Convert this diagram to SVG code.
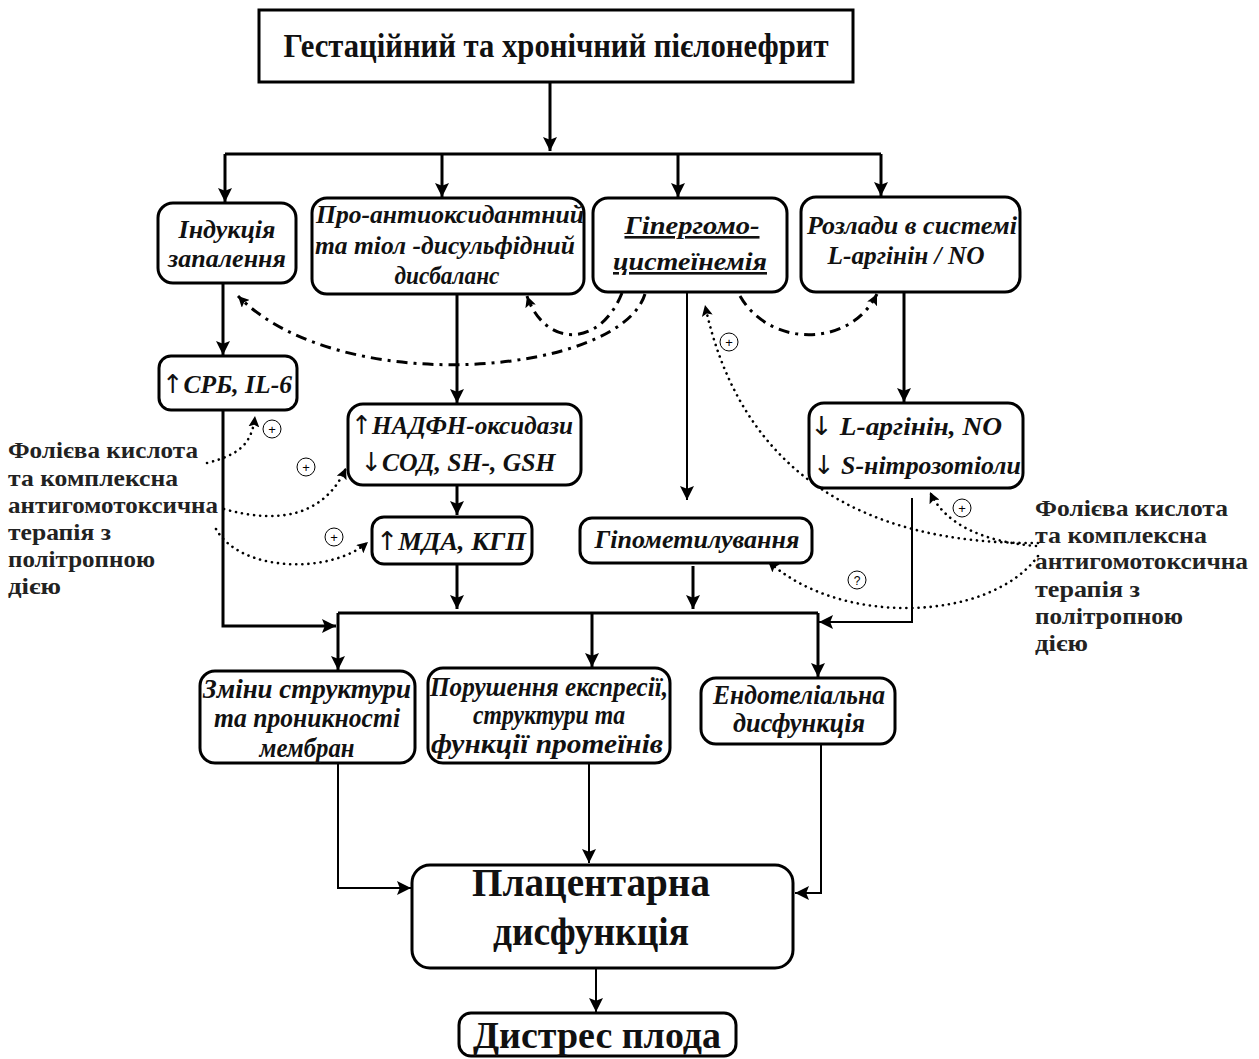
<svg xmlns="http://www.w3.org/2000/svg" width="1259" height="1059" viewBox="0 0 1259 1059">
<defs>
<style>
.box{fill:#fff;stroke:#000;stroke-width:3}
.n{font-family:"Liberation Serif","Times New Roman",serif;font-weight:bold;font-style:italic;font-size:26px;fill:#111;text-anchor:middle}
.r3{font-size:27px}
.ar{font-family:"DejaVu Sans",sans-serif;font-weight:normal;font-style:normal}
.b{font-family:"Liberation Serif","Times New Roman",serif;font-weight:bold;fill:#111;text-anchor:middle}
.lab{font-family:"Liberation Serif","Times New Roman",serif;font-weight:bold;font-size:23px;fill:#222}
.ln{fill:none;stroke:#000;stroke-width:3}
.thin{fill:none;stroke:#000;stroke-width:2}
.dd{fill:none;stroke:#000;stroke-width:3;stroke-dasharray:11 6 3 6}
.dot{fill:none;stroke:#000;stroke-width:2.6;stroke-dasharray:0.1 6;stroke-linecap:round}
.sym{fill:#fff;stroke:#000;stroke-width:1}
.st{font-family:"Liberation Sans",Arial,sans-serif;font-size:13px;fill:#000;text-anchor:middle}
</style>
<marker id="ah" viewBox="0 0 10 10" refX="10" refY="5" markerWidth="14" markerHeight="14" markerUnits="userSpaceOnUse" orient="auto">
<path d="M0,0 L10,5 L0,10 L2,5 z" fill="#000"/>
</marker>
<marker id="as" viewBox="0 0 10 10" refX="10" refY="5" markerWidth="11" markerHeight="11" markerUnits="userSpaceOnUse" orient="auto">
<path d="M0,0 L10,5 L0,10 L2,5 z" fill="#000"/>
</marker>
</defs>
<rect width="1259" height="1059" fill="#fff"/>

<g id="connectors">
<path class="ln" d="M550,82 V151" marker-end="url(#ah)"/>
<path class="ln" d="M225,154 H881"/>
<path class="ln" d="M225,154 V202" marker-end="url(#ah)"/>
<path class="ln" d="M442,154 V197" marker-end="url(#ah)"/>
<path class="ln" d="M678,154 V197" marker-end="url(#ah)"/>
<path class="ln" d="M881,154 V196" marker-end="url(#ah)"/>
<path class="ln" d="M223,283 V355" marker-end="url(#ah)"/>
<path class="ln" d="M457,294 V403" marker-end="url(#ah)"/>
<path class="thin" d="M687,292 V500" marker-end="url(#ah)"/>
<path class="ln" d="M904,292 V402" marker-end="url(#ah)"/>
<path class="ln" d="M457,485 V515" marker-end="url(#ah)"/>
<path class="ln" d="M457,564 V609" marker-end="url(#ah)"/>
<path class="ln" d="M693,566 V609" marker-end="url(#ah)"/>
<path class="ln" d="M223,410 V626 H336" marker-end="url(#ah)"/>
<path class="thin" d="M912,498 V622 H819" marker-end="url(#ah)"/>
<path class="ln" d="M338,613 H818"/>
<path class="ln" d="M338,613 V670" marker-end="url(#ah)"/>
<path class="ln" d="M592,613 V667" marker-end="url(#ah)"/>
<path class="ln" d="M818,613 V677" marker-end="url(#ah)"/>
<path class="thin" d="M338,763 V888 H411" marker-end="url(#ah)"/>
<path class="thin" d="M589,763 V863" marker-end="url(#ah)"/>
<path class="thin" d="M821,744 V893 H795" marker-end="url(#ah)"/>
<path class="thin" d="M596,968 V1012" marker-end="url(#ah)"/>

<path class="dd" d="M645,294 C620,375 340,400 238,296" marker-end="url(#as)"/>
<path class="dd" d="M622,293 C600,348 545,348 527,296" marker-end="url(#as)"/>
<path class="dd" d="M740,296 C770,348 850,348 877,294" marker-end="url(#as)"/>

<path class="dot" d="M207,463 C238,455 252,445 255,416" marker-end="url(#as)"/>
<path class="dot" d="M224,509 C280,525 325,515 346,468" marker-end="url(#as)"/>
<path class="dot" d="M216,529 C240,572 330,575 368,542" marker-end="url(#as)"/>
<path class="dot" d="M1038,543 C860,545 740,470 705,305" marker-end="url(#as)"/>
<path class="dot" d="M1036,546 C985,542 945,525 930,492" marker-end="url(#as)"/>
<path class="dot" d="M1038,556 C990,622 840,627 768,561" marker-end="url(#as)"/>

<circle class="sym" cx="272" cy="429" r="9"/><text class="st" x="272" y="434">+</text>
<circle class="sym" cx="306" cy="467" r="9"/><text class="st" x="306" y="472">+</text>
<circle class="sym" cx="334" cy="537" r="9"/><text class="st" x="334" y="542">+</text>
<circle class="sym" cx="729" cy="342" r="9"/><text class="st" x="729" y="347">+</text>
<circle class="sym" cx="962" cy="508" r="9"/><text class="st" x="962" y="513">+</text>
<circle class="sym" cx="857" cy="580" r="9"/><text class="st" x="857" y="585" style="font-size:12px">?</text>
</g>

<g id="n-top">
<rect x="259" y="10" width="594" height="72" fill="#fff" stroke="#000" stroke-width="3"/>
<text class="b" x="556" y="57" font-size="34" textLength="545" lengthAdjust="spacingAndGlyphs">Гестаційний та хронічний пієлонефрит</text>
</g>

<g id="n-inflam">
<rect class="box" x="158" y="203" width="138" height="80" rx="15"/>
<text class="n" x="227" y="238" textLength="97" lengthAdjust="spacingAndGlyphs">Індукція</text>
<text class="n" x="227" y="267" textLength="118" lengthAdjust="spacingAndGlyphs">запалення</text>
</g>

<g id="n-prooxid">
<rect class="box" x="312" y="198" width="272" height="96" rx="15"/>
<text class="n" x="450" y="223" textLength="268" lengthAdjust="spacingAndGlyphs">Про-антиоксидантний</text>
<text class="n" x="445" y="254" textLength="260" lengthAdjust="spacingAndGlyphs">та тіол -дисульфідний</text>
<text class="n" x="447" y="284" textLength="105" lengthAdjust="spacingAndGlyphs">дисбаланс</text>
</g>

<g id="n-hhcy">
<rect class="box" x="593" y="198" width="194" height="94" rx="15"/>
<text class="n" x="692" y="234" textLength="135" lengthAdjust="spacingAndGlyphs" text-decoration="underline">Гіпергомо-</text>
<text class="n" x="690" y="270" textLength="154" lengthAdjust="spacingAndGlyphs" text-decoration="underline">цистеїнемія</text>
</g>

<g id="n-larg">
<rect class="box" x="801" y="197" width="219" height="95" rx="15"/>
<text class="n" x="912" y="234" textLength="210" lengthAdjust="spacingAndGlyphs">Розлади в системі</text>
<text class="n" x="906" y="264" textLength="157" lengthAdjust="spacingAndGlyphs">L-аргінін / NO</text>
</g>

<g id="n-crp">
<rect class="box" x="159" y="356" width="138" height="54" rx="12"/>
<text class="n" x="227" y="393" textLength="130" lengthAdjust="spacingAndGlyphs"><tspan class="ar">↑</tspan>СРБ, IL-6</text>
</g>

<g id="n-nadph">
<rect class="box" x="348" y="404" width="233" height="81" rx="15"/>
<text class="n" x="462" y="434" textLength="222" lengthAdjust="spacingAndGlyphs"><tspan class="ar">↑</tspan>НАДФН-оксидази</text>
<text class="n" x="458" y="471" textLength="195" lengthAdjust="spacingAndGlyphs"><tspan class="ar">↓</tspan>СОД, SH-, GSH</text>
</g>

<g id="n-mda">
<rect class="box" x="372" y="517" width="160" height="47" rx="12"/>
<text class="n" x="451" y="550" textLength="150" lengthAdjust="spacingAndGlyphs"><tspan class="ar">↑</tspan>МДА, КГП</text>
</g>

<g id="n-hypometh">
<rect class="box" x="580" y="518" width="232" height="45" rx="12"/>
<text class="n" x="697" y="548" textLength="205" lengthAdjust="spacingAndGlyphs">Гіпометилування</text>
</g>

<g id="n-no">
<rect class="box" x="809" y="403" width="214" height="85" rx="15"/>
<text class="n" x="906" y="435" textLength="192" lengthAdjust="spacingAndGlyphs"><tspan class="ar">↓</tspan> L-аргінін, NO</text>
<text class="n" x="917" y="474" textLength="208" lengthAdjust="spacingAndGlyphs"><tspan class="ar">↓</tspan> S-нітрозотіоли</text>
</g>

<g id="n-membr">
<rect class="box" x="200" y="671" width="215" height="92" rx="15"/>
<text class="n r3" x="307" y="698" textLength="208" lengthAdjust="spacingAndGlyphs">Зміни структури</text>
<text class="n r3" x="307" y="727" textLength="186" lengthAdjust="spacingAndGlyphs">та проникності</text>
<text class="n r3" x="307" y="757" textLength="95" lengthAdjust="spacingAndGlyphs">мембран</text>
</g>

<g id="n-prot">
<rect class="box" x="428" y="668" width="242" height="95" rx="15"/>
<text class="n r3" x="549" y="696" textLength="238" lengthAdjust="spacingAndGlyphs">Порушення експресії,</text>
<text class="n r3" x="549" y="724" textLength="152" lengthAdjust="spacingAndGlyphs">структури та</text>
<text class="n r3" x="547" y="753" textLength="232" lengthAdjust="spacingAndGlyphs">функції протеїнів</text>
</g>

<g id="n-endo">
<rect class="box" x="701" y="678" width="194" height="66" rx="15"/>
<text class="n r3" x="799" y="704" textLength="172" lengthAdjust="spacingAndGlyphs">Ендотеліальна</text>
<text class="n r3" x="799" y="732" textLength="132" lengthAdjust="spacingAndGlyphs">дисфункція</text>
</g>

<g id="n-placenta">
<rect class="box" x="412" y="865" width="381" height="103" rx="18"/>
<text class="b" x="591" y="896" font-size="39" textLength="238" lengthAdjust="spacingAndGlyphs">Плацентарна</text>
<text class="b" x="591" y="945" font-size="39" textLength="196" lengthAdjust="spacingAndGlyphs">дисфункція</text>
</g>

<g id="n-distress">
<rect class="box" x="459" y="1013" width="277" height="43" rx="12"/>
<text class="b" x="597" y="1048" font-size="38" textLength="248" lengthAdjust="spacingAndGlyphs">Дистрес плода</text>
</g>

<g id="n-therapy-left">
<text class="lab" x="8" y="458" textLength="190" lengthAdjust="spacingAndGlyphs">Фолієва кислота</text>
<text class="lab" x="8" y="486" textLength="170" lengthAdjust="spacingAndGlyphs">та комплексна</text>
<text class="lab" x="8" y="513" textLength="210" lengthAdjust="spacingAndGlyphs">антигомотоксична</text>
<text class="lab" x="8" y="540" textLength="103" lengthAdjust="spacingAndGlyphs">терапія з</text>
<text class="lab" x="8" y="567" textLength="147" lengthAdjust="spacingAndGlyphs">політропною</text>
<text class="lab" x="8" y="594" textLength="53" lengthAdjust="spacingAndGlyphs">дією</text>
</g>

<g id="n-therapy-right">
<text class="lab" x="1035" y="516" textLength="193" lengthAdjust="spacingAndGlyphs">Фолієва кислота</text>
<text class="lab" x="1035" y="543" textLength="172" lengthAdjust="spacingAndGlyphs">та комплексна</text>
<text class="lab" x="1035" y="569" textLength="213" lengthAdjust="spacingAndGlyphs">антигомотоксична</text>
<text class="lab" x="1035" y="597" textLength="105" lengthAdjust="spacingAndGlyphs">терапія з</text>
<text class="lab" x="1035" y="624" textLength="148" lengthAdjust="spacingAndGlyphs">політропною</text>
<text class="lab" x="1035" y="651" textLength="53" lengthAdjust="spacingAndGlyphs">дією</text>
</g>
</svg>
